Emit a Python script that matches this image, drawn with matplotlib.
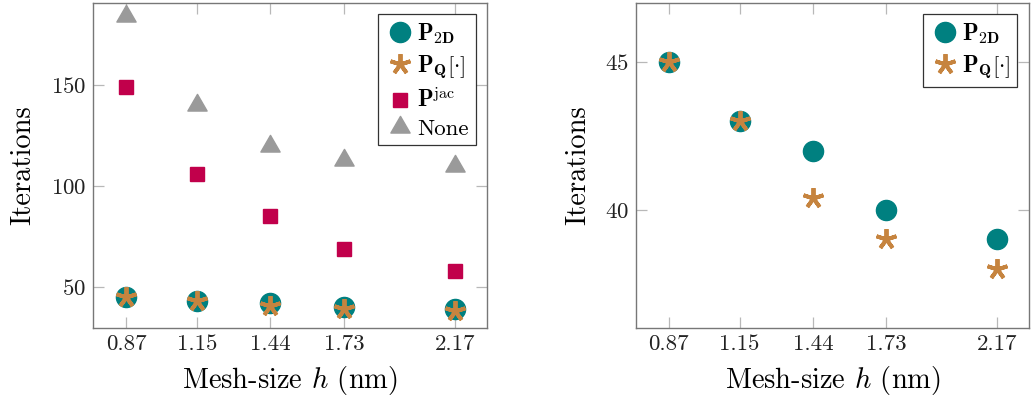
import matplotlib
matplotlib.use("Agg")
import matplotlib.pyplot as plt
from matplotlib.path import Path

plt.rcParams["font.family"] = ["cmr10", "DejaVu Serif"]
plt.rcParams["mathtext.fontset"] = "cm"
plt.rcParams["axes.unicode_minus"] = False
plt.rcParams["axes.formatter.use_mathtext"] = True

# mesh sizes (nm)
mesh = [0.87, 1.15, 1.44, 1.73, 2.17]
mesh_labels = ["0.87", "1.15", "1.44", "1.73", "2.17"]

# iteration counts
it_p2d = [45, 43, 42, 40, 39]
it_pq = [45, 43, 40.4, 39, 38]
it_jac = [149, 106, 85, 69, 58]
it_none = [184, 140, 120, 113, 110]

lbl_p2d = r"$\mathbf{P}_{\mathbf{2D}}$"
lbl_pq = r"$\mathbf{P}_{\mathbf{Q}}[\cdot]$"
lbl_jac = r"$\mathbf{P}^{\mathrm{jac}}$"
lbl_none = "None"

teal = "#008080"
orange = "#C6843F"
crimson = "#C1004B"
grey = "#9A9A9A"

# triangle centred like the pgfplots mark
tri = Path([(0, 1), (-0.866, -0.5), (0.866, -0.5), (0, 1)],
           [Path.MOVETO, Path.LINETO, Path.LINETO, Path.CLOSEPOLY])
star = (5, 2, 0)

fig = plt.figure(figsize=(10.31, 4.07), dpi=100)
ax1 = fig.add_axes([0.0902, 0.1941, 0.3822, 0.7985])
ax2 = fig.add_axes([0.6169, 0.1941, 0.3811, 0.7985])


def style(ax):
    for s in ax.spines.values():
        s.set_color("#777777")
        s.set_linewidth(1.0)
    ax.tick_params(direction="in", top=True, right=True, length=8,
                   width=0.9, color="#b8b8b8", labelsize=16.5,
                   labelcolor="#222222", pad=5)
    ax.set_xticks(mesh)
    ax.set_xticklabels(mesh_labels)
    ax.set_xlim(0.74, 2.295)
    ax.set_xlabel(r"Mesh-size $h$ (nm)", fontsize=20.5, labelpad=7)
    ax.set_ylabel("Iterations", fontsize=20.5, labelpad=10)


def legend(ax):
    leg = ax.legend(loc="upper right", fontsize=16.5, frameon=True, fancybox=False,
                    edgecolor="black", borderpad=0.3, handletextpad=0.1,
                    handlelength=1.3, labelspacing=0.3, borderaxespad=0.5)
    leg.get_frame().set_linewidth(0.9)


# left: all preconditioners
ax1.plot(mesh, it_p2d, ls="none", marker="o", ms=14.5, color=teal, label=lbl_p2d)
ax1.plot(mesh, it_pq, ls="none", marker=star, ms=15, mew=2.8, mec=orange,
         color=orange, label=lbl_pq)
ax1.plot(mesh, it_jac, ls="none", marker="s", ms=10.5, color=crimson, label=lbl_jac)
ax1.plot(mesh, it_none, ls="none", marker=tri, ms=16, color=grey, label=lbl_none)
ax1.set_ylim(29.7, 190.6)
ax1.set_yticks([50, 100, 150])
style(ax1)
legend(ax1)

# right: zoom on the two block preconditioners
ax2.plot(mesh, it_p2d, ls="none", marker="o", ms=14.5, color=teal, label=lbl_p2d)
ax2.plot(mesh, it_pq, ls="none", marker=star, ms=15, mew=2.8, mec=orange,
         color=orange, label=lbl_pq)
ax2.set_ylim(36, 47)
ax2.set_yticks([40, 45])
style(ax2)
legend(ax2)

fig.savefig("out.png", dpi=100)
